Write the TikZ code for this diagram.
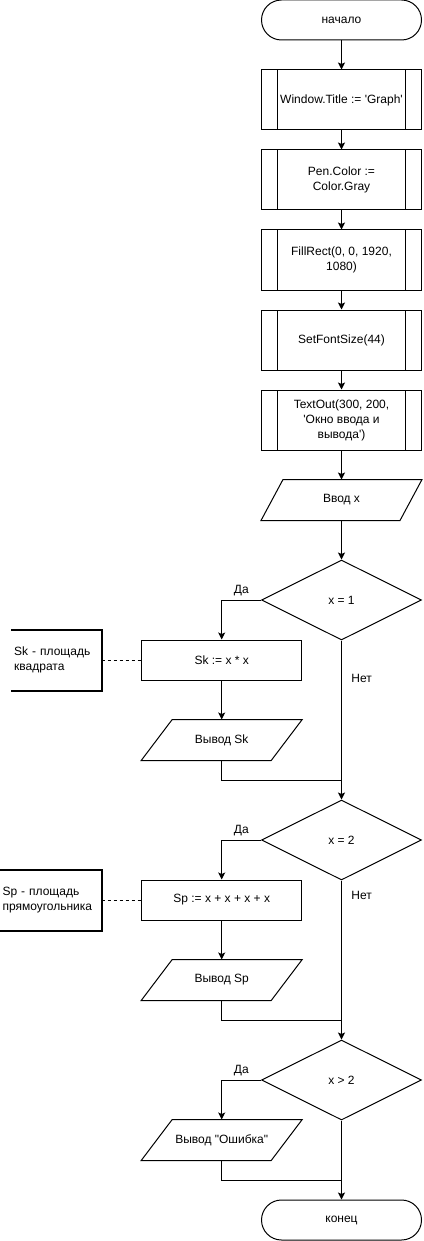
\documentclass[tikz,border=0pt]{standalone}
\usepackage{fontspec}
\setmainfont{Liberation Sans}
\usetikzlibrary{shapes.geometric,arrows.meta,positioning}
\newcommand{\apos}{\textquotesingle}
\tikzstyle{terminal}=[draw, rectangle, rounded corners=20pt, minimum width=160pt, minimum height=40pt]
\tikzstyle{subproc}=[draw, rectangle, minimum width=160pt, minimum height=60pt, align=center,
  path picture={
    \draw ([xshift=16pt]path picture bounding box.north west) -- ([xshift=16pt]path picture bounding box.south west);
    \draw ([xshift=-16pt]path picture bounding box.north east) -- ([xshift=-16pt]path picture bounding box.south east);
  }]
\tikzstyle{process}=[draw, rectangle, minimum width=160pt, minimum height=40pt]
\tikzset{inout/.style={rectangle, inner sep=0pt, minimum width=160pt, minimum height=40pt,
  append after command={(\tikzlastnode.south west) -- ([xshift=#1]\tikzlastnode.north west)
    -- (\tikzlastnode.north east) -- ([xshift=-#1]\tikzlastnode.south east) -- cycle}}}
\tikzstyle{decision}=[draw, diamond, inner sep=0pt, minimum width=160pt, minimum height=80pt]
\tikzstyle{note}=[minimum height=60pt, align=left, inner xsep=2.5pt]
\tikzset{flow/.style={-{Stealth[length=7pt,width=7pt,inset=1.5pt]}}}
\tikzset{y=-1pt}
\tikzset{x=1pt}
\tikzset{every node/.style={font=\fontsize{12}{15}\selectfont}}

\begin{document}
\begin{tikzpicture}[line width=1pt]
  \useasboundingbox (0,0) rectangle (423,1241);
  %% main column
  \draw (341.5,20) node[terminal] (start) {начало};
  \draw (341.5,100) node[subproc] (p1) {Window.Title := \apos Graph\apos};
  \draw (341.5,180) node[subproc] (p2) {Pen.Color :=\\Color.Gray};
  \draw (341.5,260) node[subproc] (p3) {FillRect(0, 0, 1920,\\1080)};
  \draw (341.5,340) node[subproc] (p4) {SetFontSize(44)};
  \draw (341.5,420) node[subproc] (p5) {TextOut(300, 200,\\\apos Окно ввода и\\вывода\apos)};
  \draw (341.5,500) node[inout=22pt] (inx) {Ввод x};

  \draw (341.5,600) node[decision] (d1) {x = 1};
  \draw (221.7,660) node[process] (sk) {Sk := x * x};
  \draw (221.7,740) node[inout=31pt] (outk) {Вывод Sk};
  \draw (56.35,660) node[note,minimum width=89.3pt,text width=84.3pt] (ck) {Sk - площадь\\квадрата};

  \draw (341.5,840) node[decision] (d2) {x = 2};
  \draw (221.7,900) node[process] (sp) {Sp := x + x + x + x};
  \draw (221.7,980) node[inout=31pt] (outp) {Вывод Sp};
  \draw (50.5,900) node[note,minimum width=101pt,text width=96pt] (cp) {Sp - площадь\\прямоугольника};

  \draw (341.5,1080) node[decision] (d3) {x > 2};
  \draw (221.7,1140) node[inout=31pt] (err) {Вывод \textquotedbl Ошибка\textquotedbl};
  \draw (341.5,1220) node[terminal] (stop) {конец};

  \coordinate (j1) at (341.5,780);
  \coordinate (j2) at (341.5,1020);
  \coordinate (j3) at (341.5,1180);

  %% connectors
  \draw[flow] (start) -- (p1);
  \draw[flow] (p1) -- (p2);
  \draw[flow] (p2) -- (p3);
  \draw[flow] (p3) -- (p4);
  \draw[flow] (p4) -- (p5);
  \draw[flow] (p5) -- (inx);
  \draw[flow] (inx) -- (d1);

  \draw[flow] (d1.west) -| node[pos=.25,above] {Да} (sk.north);
  \draw[flow] (sk) -- (outk);
  \draw (outk.south) |- (j1);
  \draw[flow] (d1.south) -- node[pos=.24,right=6pt] {Нет} (d2.north);

  \draw[flow] (d2.west) -| node[pos=.25,above] {Да} (sp.north);
  \draw[flow] (sp) -- (outp);
  \draw (outp.south) |- (j2);
  \draw[flow] (d2.south) -- node[pos=.094,right=6pt] {Нет} (d3.north);

  \draw[flow] (d3.west) -| node[pos=.25,above] {Да} (err.north);
  \draw (err.south) |- (j3);
  \draw[flow] (d3.south) -- (stop.north);

  %% comments
  \draw[line width=2pt] (ck.north west) -- (ck.north east) -- (ck.south east) -- (ck.south west);
  \draw[dashed] (ck.east) -- (sk.west);
  \draw[line width=2pt] (cp.north west) -- (cp.north east) -- (cp.south east) -- (cp.south west);
  \draw[dashed] (cp.east) -- (sp.west);
\end{tikzpicture}
\end{document}
